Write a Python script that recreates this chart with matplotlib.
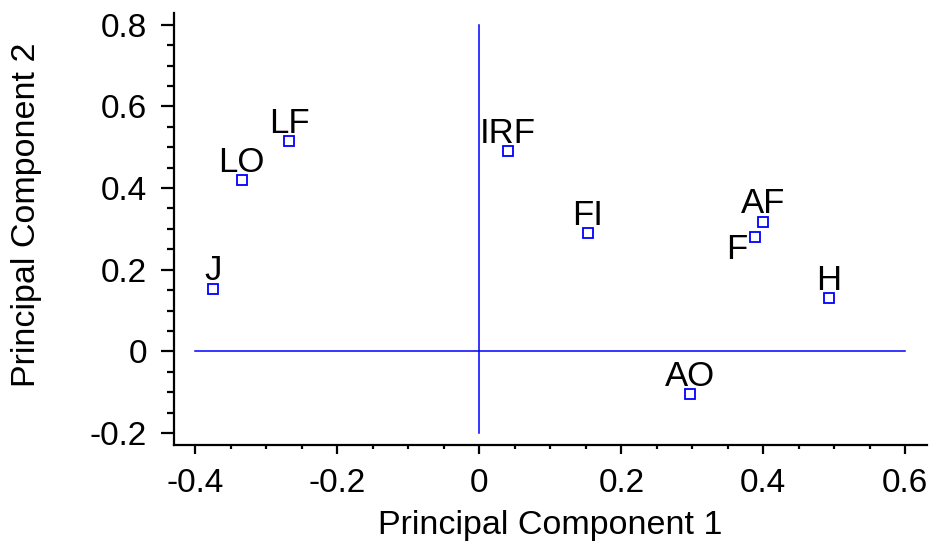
import numpy as np
import matplotlib.pyplot as plt
from matplotlib.ticker import MultipleLocator

plt.rcParams['font.family'] = ['Liberation Sans', 'DejaVu Sans']

# Данные: нагрузки на первые две главные компоненты
labels = ['LF', 'LO', 'J', 'IRF', 'FI', 'AF', 'F', 'H', 'AO']
pc1 = [-0.268, -0.335, -0.375, 0.040, 0.153, 0.400, 0.389, 0.492, 0.297]
pc2 = [0.515, 0.419, 0.154, 0.490, 0.289, 0.318, 0.280, 0.130, -0.105]

fig = plt.figure(figsize=(9.31, 5.52), dpi=100)
ax = fig.add_axes([0.187, 0.194, 0.809, 0.782])

# оси через ноль
ax.plot([0, 0], [-0.2, 0.8], color='blue', lw=1.1)
ax.plot([-0.4, 0.6], [0, 0], color='blue', lw=1.1)

ax.plot(pc1, pc2, linestyle='none', marker='s', markersize=7.5,
        markerfacecolor='white', markeredgecolor='blue', markeredgewidth=1.3)

for lab, x, y in zip(labels, pc1, pc2):
    if lab == 'F':
        ax.annotate(lab, (x, y), xytext=(-6, 3), textcoords='offset points',
                    ha='right', va='top', fontsize=25)
    else:
        ax.annotate(lab, (x, y), xytext=(0, 1), textcoords='offset points',
                    ha='center', va='bottom', fontsize=25)

ax.set_xlim(-0.43, 0.631)
ax.set_ylim(-0.229, 0.828)
ax.xaxis.set_major_locator(MultipleLocator(0.2))
ax.xaxis.set_minor_locator(MultipleLocator(0.05))
ax.yaxis.set_major_locator(MultipleLocator(0.2))
ax.yaxis.set_minor_locator(MultipleLocator(0.05))
ax.xaxis.set_major_formatter(lambda v, p: '0' if abs(v) < 1e-9 else f'{v:.1f}')
ax.yaxis.set_major_formatter(lambda v, p: '0' if abs(v) < 1e-9 else f'{v:.1f}')

for s in ['top', 'right']:
    ax.spines[s].set_visible(False)
for s in ['left', 'bottom']:
    ax.spines[s].set_linewidth(1.6)

ax.tick_params(axis='x', which='major', direction='out', length=6.5, width=1.6, labelsize=24, pad=10)
ax.tick_params(axis='x', which='minor', direction='out', length=3, width=1.6)
ax.tick_params(axis='y', which='major', direction='out', length=9.5, width=1.6, labelsize=24, pad=10)
ax.tick_params(axis='y', which='minor', direction='out', length=5, width=1.6)

ax.set_xlabel('Principal Component 1', fontsize=24.5, labelpad=8)
ax.set_ylabel('Principal Component 2', fontsize=24.5)
ax.yaxis.set_label_coords(-0.175, 0.534)

plt.savefig('out.png', dpi=100)
